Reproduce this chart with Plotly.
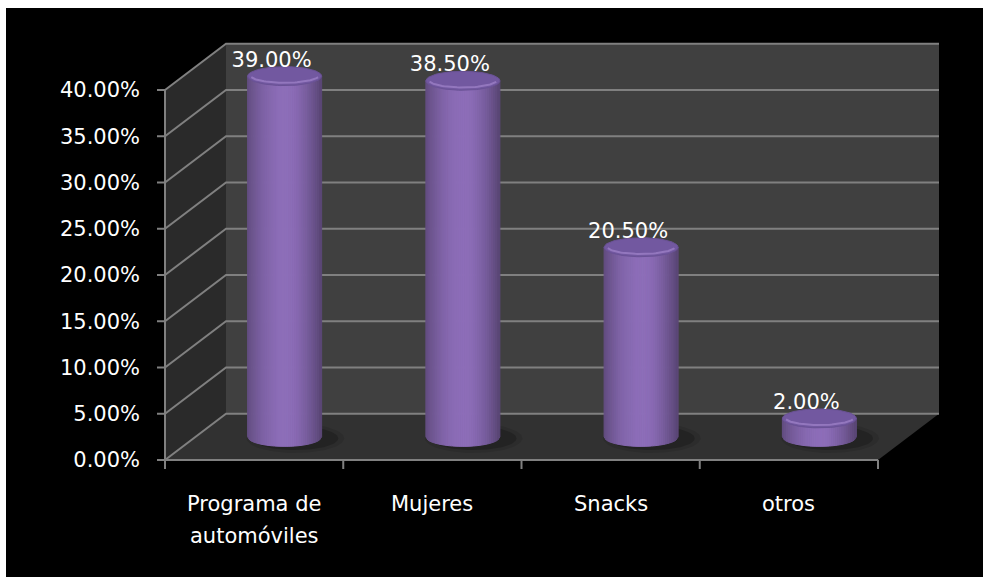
import numpy as np
import plotly.graph_objects as go

# ---- data -------------------------------------------------------------
categories = ["Programa de\nautomóviles", "Mujeres", "Snacks", "otros"]
values = [39.00, 38.50, 20.50, 2.00]          # percent
y_ticks = [0, 5, 10, 15, 20, 25, 30, 35, 40]  # percent

# ---- page / plot-area geometry (pixels) -------------------------------
FIG_W, FIG_H = 983, 577
L, R, T, B = 156, 949, 39, 474          # plot area edges
X0_PX, PX_PER_CAT = 165, 178.25         # x=0 position and width of one category
Y0_PX, PX_PER_PCT = 460, 9.25           # y=0 position and pixels per percent

x_range = [(L - X0_PX) / PX_PER_CAT, (R - X0_PX) / PX_PER_CAT]
y_range = [(Y0_PX - B) / PX_PER_PCT, (Y0_PX - T) / PX_PER_PCT]

# pseudo-3D depth of the box (in data units)
DX = 61 / PX_PER_CAT
DY = 5.0
Y_MAX = max(y_ticks)
N = len(categories)

# cylinder size (data units)
RAD_X = 37 / PX_PER_CAT
RAD_Y = 9.5 / PX_PER_PCT

GRID = "#808080"
FONT = "DejaVu Sans"

fig = go.Figure()


def poly(xs, ys, color, line_color=None, width=0):
    fig.add_trace(go.Scatter(
        x=list(xs) + [xs[0]], y=list(ys) + [ys[0]], mode="lines",
        fill="toself", fillcolor=color,
        line=dict(color=line_color or color, width=width),
        hoverinfo="skip", showlegend=False))


def path(xs, ys, color, width):
    fig.add_trace(go.Scatter(
        x=xs, y=ys, mode="lines", line=dict(color=color, width=width),
        hoverinfo="skip", showlegend=False, connectgaps=False))


# ---- walls and floor --------------------------------------------------
poly([0, 0, DX, DX], [0, Y_MAX, Y_MAX + DY, DY], "#2a2a2a")                  # side wall
poly([DX, DX, N + DX, N + DX], [DY, Y_MAX + DY, Y_MAX + DY, DY], "#404040")  # back wall
poly([0, N, N + DX, DX], [0, 0, DY, DY], "#313131")                          # floor

# gridlines running along the side wall and the back wall
gx, gy = [], []
for v in y_ticks:
    gx += [0, DX, N + DX, None]
    gy += [v, v + DY, v + DY, None]
path(gx, gy, GRID, 2)

# front edge of the floor and the vertical axis line
path([0, N], [0, 0], GRID, 2)
tick_down = 9 / PX_PER_PCT
path([0, 0], [-tick_down, Y_MAX], GRID, 2)

# tick marks
tx, ty = [], []
for i in range(N + 1):
    tx += [i, i, None]
    ty += [0, -tick_down, None]
tick_left = 8 / PX_PER_CAT
for v in y_ticks:
    tx += [-tick_left, 0, None]
    ty += [v, v, None]
path(tx, ty, GRID, 2)

# ---- cylinders --------------------------------------------------------
theta = np.linspace(0, 2 * np.pi, 90)
BASE_RGB = np.array([136, 106, 178])


def body_color(t):
    # darker at the left edge, brightest a little right of centre
    k = 0.68 + 0.36 * np.sin(np.pi * np.clip(t * 0.92 + 0.02, 0, 1)) ** 0.8
    if t > 0.62:
        k -= (t - 0.62) * 0.32
    c = np.clip(BASE_RGB * k, 0, 255).astype(int)
    return f"rgb({c[0]},{c[1]},{c[2]})"


for i, v in enumerate(values):
    cx = i + 0.5 + DX / 2
    base = DY / 2
    top = base + v

    # soft shadow on the floor
    for sx, sy, a in [(1.32, 1.55, 0.10), (1.16, 1.25, 0.20)]:
        poly(cx + 0.06 + RAD_X * sx * np.cos(theta),
             base - 0.15 + RAD_Y * sy * np.sin(theta),
             f"rgba(0,0,0,{a})")

    # body, as narrow vertical strips to shade the curvature
    n_strips = 36
    edges = np.linspace(cx - RAD_X, cx + RAD_X, n_strips + 1)
    for k in range(n_strips):
        xa, xb = edges[k], edges[k + 1]
        da = RAD_Y * np.sqrt(max(0.0, 1 - ((xa - cx) / RAD_X) ** 2))
        db = RAD_Y * np.sqrt(max(0.0, 1 - ((xb - cx) / RAD_X) ** 2))
        col = body_color((k + 0.5) / n_strips)
        poly([xa, xb, xb, xa], [base - da, base - db, top - db, top - da],
             col, col, 1)

    # top face
    poly(cx + RAD_X * np.cos(theta), top + RAD_Y * np.sin(theta),
         "rgb(114,88,160)", "rgb(106,82,150)", 1)
    arc = np.linspace(np.pi * 1.08, np.pi * 1.92, 40)
    path(list(cx + RAD_X * 0.93 * np.cos(arc)),
         list(top + 0.1 + RAD_Y * 0.8 * np.sin(arc)),
         "rgba(175,145,215,0.55)", 2)

# ---- value labels -----------------------------------------------------
fig.add_trace(go.Scatter(
    x=[i + 0.5 + DX / 2 - 13 / PX_PER_CAT for i in range(N)],
    y=[v + DY / 2 + 1.6 for v in values],
    mode="text", text=[f"{v:.2f}%" for v in values],
    textposition="middle center",
    textfont=dict(family=FONT, size=21, color="white"),
    cliponaxis=False, hoverinfo="skip", showlegend=False))

# ---- category labels --------------------------------------------------
annotations = []
for i, cat in enumerate(categories):
    for j, line in enumerate(cat.split("\n")):
        annotations.append(dict(
            x=i + 0.5, y=0, xref="x", yref="y", text=line, showarrow=False,
            xanchor="center", yanchor="middle", yshift=-44 - 32 * j,
            font=dict(family=FONT, size=21, color="white")))

# black page with a thin white strip along the top and left edges
W, H = R - L, B - T
shapes = [dict(type="rect", xref="paper", yref="paper", layer="below",
               x0=(6 - L) / W, x1=(FIG_W + 5 - L) / W,
               y0=(B - FIG_H - 5) / H, y1=(B - 8) / H,
               fillcolor="black", line=dict(width=0))]

fig.update_layout(
    width=FIG_W, height=FIG_H,
    margin=dict(l=L, r=FIG_W - R, t=T, b=FIG_H - B, pad=0),
    paper_bgcolor="white", plot_bgcolor="rgba(0,0,0,0)",
    showlegend=False, annotations=annotations, shapes=shapes,
    xaxis=dict(range=x_range, showgrid=False, zeroline=False,
               showticklabels=False, ticks="", fixedrange=True),
    yaxis=dict(range=y_range, showgrid=False, zeroline=False,
               tickmode="array", tickvals=y_ticks,
               ticktext=[f"{v:.2f}%" for v in y_ticks],
               ticks="", ticklabelstandoff=15,
               tickfont=dict(family=FONT, size=21, color="white"),
               fixedrange=True),
)

fig.write_html("out.html")
